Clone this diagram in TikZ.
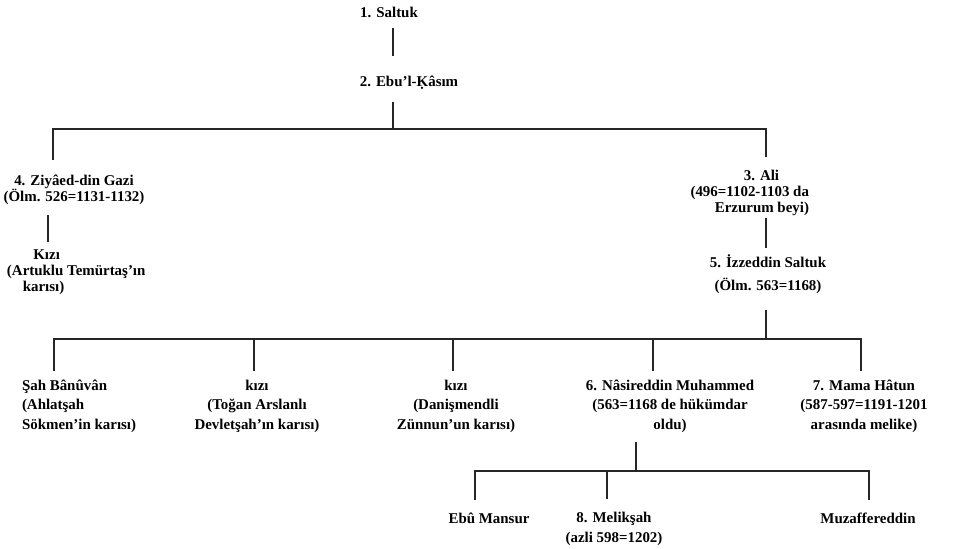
\documentclass[tikz,border=0pt]{standalone}
\usepackage{fontspec}
\setmainfont{Liberation Serif}
\begin{document}
\begin{tikzpicture}[x=0.02cm,y=-0.02cm,
    every node/.style={inner sep=0pt,outer sep=0pt,align=center,
      font=\bfseries\fontsize{8.5}{9.1}\selectfont},
    wide/.style={font=\bfseries\fontsize{8.5}{11.1}\selectfont},
    conn/.style={draw=black!85,line width=0.6pt}]
    \useasboundingbox (0,0) rectangle (967,548);
    % junctions on the bars
    \coordinate (j0) at (393,129);
    \coordinate (jz) at (53,129);
    \coordinate (ja) at (766,129);
    \coordinate (jk1) at (48,215);
    \coordinate (ji) at (766,339);
    \coordinate (js) at (54,339);
    \coordinate (jk2) at (254,339);
    \coordinate (jk3) at (453,339);
    \coordinate (jn) at (653,339);
    \coordinate (jm) at (861,339);
    \coordinate (jb) at (636,471);
    \coordinate (je) at (475,471);
    \coordinate (jl) at (607,471);
    \coordinate (jf) at (869,471);
    % people
    \node (saltuk) at (389,12) {1. Saltuk};
    \node (ebul) at (409,83) {2. Ebu’l-Ḳâsım};
    \node (ziya) at (74,189.5) {4. Ziyâed-din Gazi\\(Ölm. 526=1131-1132)};
    \node[anchor=west,align=left] (kizi1) at (7,272.5) {\hspace*{15pt}Kızı\\(Artuklu Temürtaş’ın\\\hspace*{9pt}karısı)};
    \node[anchor=east,align=right] (ali) at (809,192.5) {3. Ali\hspace*{17pt}\\(496=1102-1103 da\\Erzurum beyi)};
    \node (izz) at (768,274.5) {5. İzzeddin Saltuk\\[4pt](Ölm. 563=1168)};
    \node[wide,anchor=west,align=left] (sah) at (22,406) {Şah Bânûvân\\ (Ahlatşah\\Sökmen’in karısı)};
    \node[wide] (kizi2) at (257,406) {kızı\\(Toğan Arslanlı\\Devletşah’ın karısı)};
    \node[wide] (kizi3) at (456,406) {kızı\\(Danişmendli\\Zünnun’un karısı)};
    \node[wide] (nasir) at (670,406) {6. Nâsireddin Muhammed\\(563=1168 de hükümdar\\oldu)};
    \node[wide] (mama) at (864,406) {7. Mama Hâtun\\(587-597=1191-1201\\arasında melike)};
    \node (ebu) at (489,518) {Ebû Mansur};
    \node[wide] (melik) at (614,529) {8. Melikşah\\(azli 598=1202)};
    \node (muzaf) at (868,518) {Muzaffereddin};
    % lines
    \draw[conn,shorten <=6.3pt,shorten >=11.4pt] (saltuk.south -| j0) -- (ebul.north -| j0);
    \draw[conn,shorten <=6.8pt] (ebul.south -| j0) -- (j0);
    \draw[conn,shorten <=8.5pt,shorten >=7.4pt] (ziya.north -| jz) -- (jz) -- (ja) -- (ali.north -| ja);
    \draw[conn,shorten <=6.3pt,shorten >=4.6pt] (ziya.south -| jk1) -- (kizi1.north -| jk1);
    \draw[conn,shorten <=1.7pt,shorten >=4pt] (ali.south -| ja) -- (izz.north -| ja);
    \draw[conn,shorten <=9pt] (izz.south -| ji) -- (ji);
    \draw[conn,shorten <=5.1pt,shorten >=5.1pt] (sah.north -| js) -- (js) -- (jm) -- (mama.north -| jm);
    \draw[conn,shorten >=5.1pt] (jk2) -- (kizi2.north -| jk2);
    \draw[conn,shorten >=5.1pt] (jk3) -- (kizi3.north -| jk3);
    \draw[conn,shorten >=5.1pt] (jn) -- (nasir.north -| jn);
    \draw[conn,shorten <=5.7pt] (nasir.south -| jb) -- (jb);
    \draw[conn,shorten <=7.4pt,shorten >=7.4pt] (ebu.north -| je) -- (je) -- (jf) -- (muzaf.north -| jf);
    \draw[conn,shorten >=7.4pt] (jl) -- (melik.north -| jl);
\end{tikzpicture}
\end{document}
